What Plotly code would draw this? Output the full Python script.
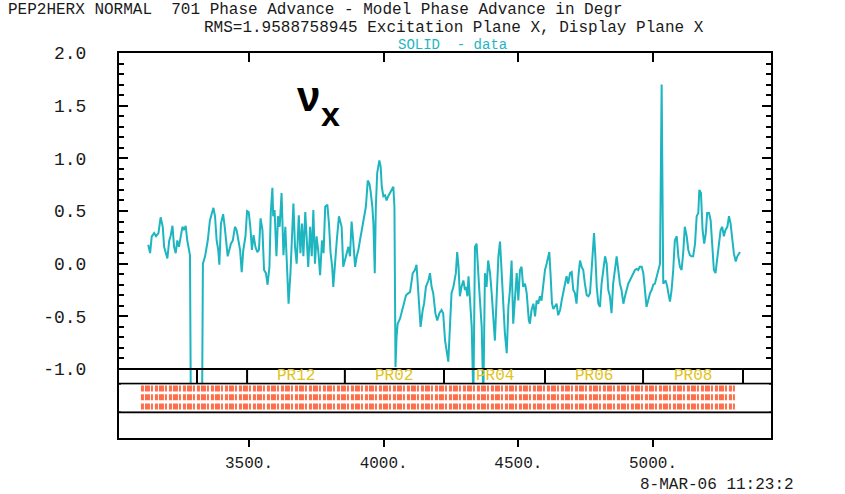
import plotly.graph_objects as go

# ---------------- data ----------------
positions = [
    3126, 3133, 3139, 3148, 3155, 3164, 3172, 3180, 3185, 3192, 3197, 3204, 3209, 3216, 3222, 3228,
    3234, 3240, 3247, 3253, 3259, 3265, 3271, 3281, 3284, 3305, 3326, 3329, 3337, 3347, 3355, 3362,
    3368, 3374, 3380, 3386, 3390, 3396, 3404, 3410, 3415, 3421, 3427, 3433, 3440, 3448, 3454, 3461,
    3467, 3473, 3479, 3487, 3493, 3499, 3505, 3511, 3517, 3524, 3531, 3537, 3543, 3550, 3556, 3563,
    3569, 3576, 3581, 3587, 3590, 3595, 3602, 3608, 3614, 3621, 3628, 3635, 3641, 3647, 3654, 3659,
    3665, 3671, 3677, 3685, 3691, 3697, 3702, 3709, 3714, 3720, 3727, 3733, 3739, 3745, 3751, 3758,
    3764, 3771, 3777, 3783, 3791, 3797, 3803, 3809, 3813, 3819, 3826, 3834,
    3844, 3850, 3856, 3863, 3869, 3875, 3881, 3887, 3894, 3900, 3906, 3912, 3924, 3934, 3941, 3947,
    3952, 3958, 3962, 3967, 3971, 3976, 3984, 3989, 3993, 3999, 4005, 4011, 4017, 4023, 4030, 4036,
    4040, 4042, 4044, 4048, 4052, 4061, 4073, 4083, 4092, 4098, 4108, 4116, 4122, 4127, 4132, 4137,
    4145, 4150, 4157, 4166, 4172, 4178, 4184, 4192, 4199, 4207, 4215, 4221, 4228, 4234, 4240, 4246,
    4252, 4259, 4268, 4273, 4278, 4283, 4289, 4296, 4302, 4306, 4311, 4315, 4320, 4327, 4333, 4339,
    4345, 4349, 4355, 4364, 4370, 4376, 4382, 4388, 4395, 4401, 4407, 4413, 4419, 4426, 4432, 4438,
    4444, 4450, 4457, 4463, 4469, 4475, 4481, 4487, 4494, 4500, 4506, 4512, 4518, 4525, 4531, 4539,
    4543, 4549, 4556, 4562, 4568, 4574, 4580, 4586, 4593, 4599, 4605, 4611, 4615, 4620, 4625, 4630,
    4636, 4642, 4648, 4655, 4661, 4667, 4673, 4679, 4685, 4692, 4698, 4704, 4710, 4716, 4723, 4729,
    4735, 4741, 4747, 4754, 4760, 4766, 4772, 4776, 4781, 4786, 4791, 4797, 4803, 4809, 4815, 4822,
    4828, 4834, 4840, 4846, 4852, 4859, 4865, 4871, 4877, 4883, 4890, 4896, 4902, 4908, 4914, 4921,
    4927, 4933, 4939, 4945, 4951, 4958, 4964, 4970, 4976, 4982, 4989, 4995, 5001, 5007, 5013, 5020,
    5026, 5032, 5038, 5047, 5053, 5059, 5063, 5069, 5075, 5081, 5088, 5094, 5100, 5106, 5112, 5118,
    5125, 5131, 5137, 5143, 5149, 5156, 5162, 5168, 5172, 5178, 5184, 5190, 5196, 5201, 5208, 5214,
    5220, 5226, 5232, 5238, 5245, 5251, 5257, 5263, 5269, 5276, 5282, 5288, 5294, 5300, 5307, 5313,
    5323,
]

phase_diff = [
    0.18, 0.10, 0.26, 0.29, 0.26, 0.29, 0.44, 0.35, 0.16, 0.10, 0.05, 0.22, 0.26, 0.36, 0.16, 0.10,
    0.22, 0.16, 0.26, 0.35, 0.32, 0.36, 0.22, 0.08, -1.30, -1.35, -1.30, 0.00, 0.07, 0.22, 0.41, 0.49,
    0.53, 0.45, 0.22, 0.13, -0.01, 0.38, 0.47, 0.35, 0.22, 0.07, 0.13, 0.19, 0.22, 0.35, 0.32, 0.22,
    0.13, -0.08, 0.13, 0.26, 0.50, 0.49, 0.35, 0.13, 0.27, 0.16, 0.11, 0.13, 0.43, 0.32, -0.06, -0.09,
    -0.20, -0.03, 0.49, 0.72, 0.45, 0.51, 0.07, 0.45, 0.35, 0.67, 0.08, 0.35, 0.00, -0.38, -0.09, 0.22,
    0.57, 0.16, 0.00, 0.46, 0.10, 0.38, 0.07, 0.49, 0.22, -0.03, 0.35, 0.07, 0.51, 0.00, 0.26, 0.10,
    -0.11, 0.22, 0.10, 0.54, 0.56, 0.38, 0.10, -0.03, -0.22, 0.03, 0.22, 0.45,
    0.35, -0.03, 0.03, 0.10, 0.16, 0.07, 0.40, 0.22, -0.03, 0.07, 0.13, 0.22, 0.38, 0.54, 0.79, 0.76,
    0.68, 0.54, 0.38, -0.09, 0.54, 0.86, 0.98, 0.92, 0.73, 0.64, 0.65, 0.60, 0.64, 0.67, 0.70, 0.73,
    0.54, 0.07, -0.98, -0.69, -0.57, -0.52, -0.41, -0.30, -0.28, -0.27, -0.09, -0.06, -0.01, -0.22, -0.47, -0.60,
    -0.44, -0.38, -0.22, -0.16, -0.09, -0.22, -0.28, -0.47, -0.54, -0.47, -0.44, -0.47, -0.73, -0.85, -0.93, -0.60,
    -0.28, -0.22, -0.09, 0.11, -0.03, -0.31, -0.22, -0.16, -0.25, -0.22, -0.31, -0.12, -0.38, -0.60, -1.30, 0.16,
    0.19, -0.03, -0.25, -0.60, -1.30, -0.09, -0.22, 0.03, -0.09, -0.28, -0.54, -0.73, -0.35, 0.07, 0.21, -0.09,
    -0.41, -0.66, -0.85, -0.41, -0.25, 0.03, -0.57, -0.35, -0.09, -0.35, -0.06, -0.03, -0.22, -0.19, -0.28, -0.54,
    -0.57, -0.44, -0.38, -0.50, -0.35, -0.38, -0.31, -0.35, -0.19, -0.06, 0.00, 0.07, 0.11, -0.12, -0.38, -0.43,
    -0.41, -0.38, -0.49, -0.44, -0.35, -0.28, -0.19, -0.12, -0.19, -0.09, -0.08, -0.25, -0.28, -0.38, -0.12, 0.03,
    -0.03, -0.06, -0.19, -0.30, -0.31, -0.28, -0.06, 0.07, 0.29, 0.07, -0.22, -0.38, -0.41, -0.19, -0.06, 0.07,
    0.00, -0.25, -0.31, -0.47, -0.19, -0.06, 0.07, -0.06, -0.19, -0.25, -0.38, -0.31, -0.25, -0.19, -0.16, -0.12,
    -0.09, -0.06, -0.05, -0.06, -0.03, -0.03, -0.09, -0.25, -0.41, -0.35, -0.28, -0.25, -0.20, -0.19, -0.12, -0.06,
    0.00, 1.70, -0.19, -0.16, -0.22, -0.31, -0.36, -0.25, -0.06, 0.22, 0.26, 0.07, -0.03, -0.06, 0.10, 0.35,
    0.26, 0.13, 0.08, 0.07, 0.07, 0.19, 0.45, 0.48, 0.70, 0.67, 0.32, 0.19, 0.29, 0.48, 0.48, 0.41,
    0.19, -0.06, -0.09, 0.07, 0.19, 0.32, 0.35, 0.26, 0.32, 0.35, 0.45, 0.38, 0.26, 0.10, 0.02, 0.07,
    0.11,
]

x_ticks = [3500, 4000, 4500, 5000]
x_tick_text = ["3500.", "4000.", "4500.", "5000."]
y_ticks = [-1.0, -0.5, 0.0, 0.5, 1.0, 1.5, 2.0]
y_tick_text = ["-1.0", "-0.5", "0.0", "0.5", "1.0", "1.5", "2.0"]

sector_bounds = [3307, 3493, 3856, 4224, 4599, 4963, 5334]
sector_labels = ["", "PR12", "PR02", "PR04", "PR06", "PR08"]

title_line1 = "PEP2HERX NORMAL  701 Phase Advance - Model Phase Advance in Degr"
title_line2 = "RMS=1.9588758945 Excitation Plane X, Display Plane X"
legend_text = "SOLID  - data"
date_text = "8-MAR-06 11:23:2"

# ---------------- styling ----------------
TEAL = "#1db5bf"
MONO = "Liberation Mono"
X_RANGE = [3017.5, 5438]
Y_RANGE = [-1.655, 2.0]
y_minor = [round(-1.0 + 0.1 * i, 1) for i in range(31) if i % 5]

fig = go.Figure()
fig.add_trace(go.Scatter(x=positions, y=phase_diff, mode="lines",
                         line=dict(color=TEAL, width=2), showlegend=False,
                         hoverinfo="x+y"))
# anchor trace for the top (mirrored) x axis
fig.add_trace(go.Scatter(x=[positions[0]], y=[phase_diff[0]], xaxis="x2", mode="markers",
                         marker=dict(opacity=0), showlegend=False, hoverinfo="skip"))

shapes = []
# band row separators
for yv in [-1.0, -1.14, -1.41]:
    shapes.append(dict(type="line", xref="paper", yref="y", x0=0, x1=1, y0=yv, y1=yv,
                       line=dict(color="black", width=2), layer="above"))
# mask below the PR row (the original's label row hides the data there)
shapes.append(dict(type="rect", xref="paper", yref="y", x0=0.003, x1=0.997, y0=-1.148, y1=-1.402,
                   fillcolor="white", line=dict(width=0), layer="above"))
# rows of tiny red device names (illegible) rendered as text-like blocks
for yc in [-1.186, -1.267, -1.357]:
    shapes.append(dict(type="line", xref="x", yref="y", x0=3099, x1=5304, y0=yc, y1=yc,
                       line=dict(color="#ff4a1f", width=6, dash="3px,1px,5px,1px,2px,2px"),
                       opacity=0.8, layer="above"))
# sector dividers
for b in sector_bounds:
    shapes.append(dict(type="line", xref="x", yref="y", x0=b, x1=b, y0=-1.0, y1=-1.14,
                       line=dict(color="black", width=2), layer="above"))

annotations = []
for i, lab in enumerate(sector_labels):
    if lab:
        annotations.append(dict(x=(sector_bounds[i] + sector_bounds[i + 1]) / 2, y=-1.068,
                                xref="x", yref="y", text=lab, showarrow=False,
                                font=dict(family=MONO, size=16, color="#e2c21c")))

annotations += [
    dict(x=-0.173, y=1.1125, xref="paper", yref="paper", text=title_line1, showarrow=False,
         xanchor="left", yanchor="middle", font=dict(family=MONO, size=16, color="#1a1a1a")),
    dict(x=0.514, y=1.065, xref="paper", yref="paper", text=title_line2, showarrow=False,
         xanchor="center", yanchor="middle", font=dict(family=MONO, size=16, color="#1a1a1a")),
    dict(x=0.511, y=1.021, xref="paper", yref="paper", text=legend_text, showarrow=False,
         xanchor="center", yanchor="middle", font=dict(family=MONO, size=14, color=TEAL)),
    dict(x=0.796, y=-0.122, xref="paper", yref="paper", text=date_text, showarrow=False,
         xanchor="left", yanchor="middle", font=dict(family=MONO, size=16, color="#1a1a1a")),
    dict(x=0.291, y=0.888, xref="paper", yref="paper", text="<b>ν</b>", showarrow=False,
         xanchor="center", yanchor="middle", font=dict(family="Liberation Sans", size=42, color="black")),
    dict(x=0.325, y=0.842, xref="paper", yref="paper", text="<b>x</b>", showarrow=False,
         xanchor="center", yanchor="middle", font=dict(family="Liberation Sans", size=34, color="black")),
]

fig.update_layout(
    width=845, height=494,
    margin=dict(l=119, r=74, t=53, b=56),
    paper_bgcolor="white", plot_bgcolor="white",
    showlegend=False,
    font=dict(family=MONO, color="#1a1a1a"),
    xaxis=dict(range=X_RANGE, tickvals=x_ticks, ticktext=x_tick_text,
               ticks="outside", ticklen=7, tickwidth=2, tickcolor="black",
               showline=True, linecolor="black", linewidth=2,
               showgrid=False, zeroline=False, tickfont=dict(size=16),
               ticklabelstandoff=2),
    xaxis2=dict(range=X_RANGE, overlaying="x", side="top", anchor="y",
                tickvals=x_ticks, ticks="inside", ticklen=9, tickwidth=2, tickcolor="black",
                showticklabels=False, showline=True, linecolor="black", linewidth=2,
                showgrid=False, zeroline=False),
    yaxis=dict(range=Y_RANGE, tickvals=y_ticks, ticktext=y_tick_text,
               ticks="inside", ticklen=9, tickwidth=2, tickcolor="black",
               showline=True, linecolor="black", linewidth=2, mirror="ticks",
               showgrid=False, zeroline=False, tickfont=dict(size=18),
               ticklabelstandoff=27,
               minor=dict(tickvals=y_minor, ticks="inside", ticklen=5, tickwidth=1.5,
                          tickcolor="black", showgrid=False)),
    shapes=shapes,
    annotations=annotations,
)

fig.write_html("out.html")
